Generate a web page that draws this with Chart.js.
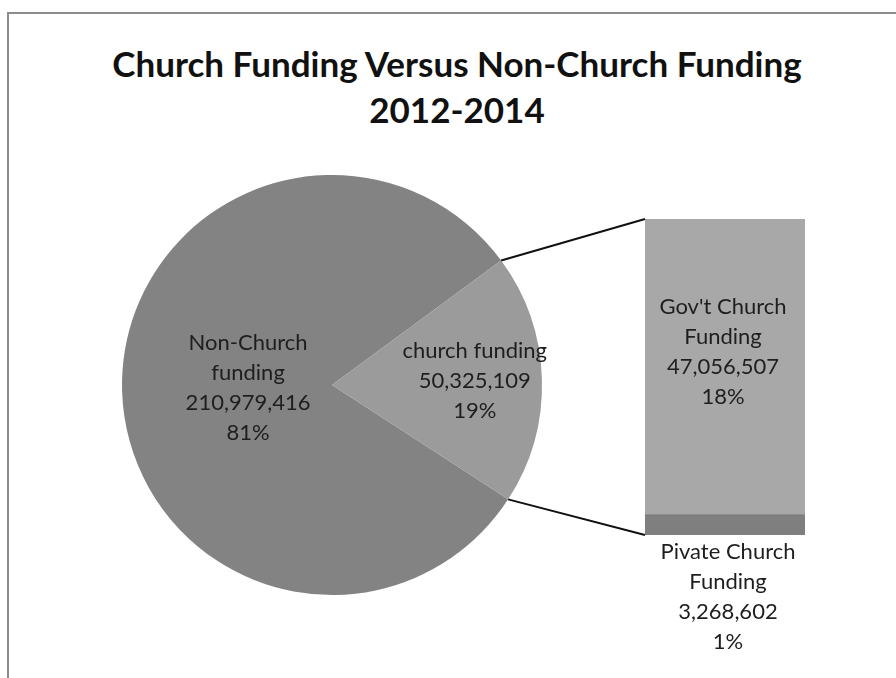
<!DOCTYPE html>
<html>
<head>
<meta charset="utf-8">
<script src="https://cdn.jsdelivr.net/npm/chart.js@4.4.1/dist/chart.umd.min.js"></script>
<style>
  html, body { margin: 0; padding: 0; background: #fff; }
  #wrap { position: relative; width: 896px; height: 678px; overflow: hidden; }
  #frame { position: absolute; left: 7px; top: 12px; width: 900px; height: 700px;
           border-top: 2px solid #8c8c8c; border-left: 2px solid #8c8c8c; }
  #title { position: absolute; left: 0; top: 40px; width: 914px; text-align: center;
           font: bold 35px Lato, sans-serif; line-height: 46px; color: #111; }
  canvas { position: absolute; left: 0; top: 0; }
</style>
</head>
<body>
<div id="wrap">
  <div id="frame"></div>
  <div id="title">Church Funding Versus Non-Church Funding<br>2012-2014</div>
  <canvas id="pie" width="896" height="678"></canvas>
  <canvas id="bar" width="896" height="678"></canvas>
</div>
<script>
// pie: whole picture
const pieLabels = ['Non-Church funding', 'church funding'];
const pieValues = [210979416, 50325109];
const pieLabelLines = [['Non-Church', 'funding'], ['church funding']];
const pieColors = ['#838383', '#9b9b9b'];

// bar: split of the church slice (bottom first)
const barLabels = ['Pivate Church Funding', "Gov't Church Funding"];
const barValues = [3268602, 47056507];
const barLabelLines = [['Pivate Church', 'Funding'], ["Gov't Church", 'Funding']];
const barColors = ['#7f7f7f', '#a8a8a8'];

const grandTotal = pieValues.reduce((a, b) => a + b, 0);
const fmt = v => v.toLocaleString('en-US');
const pct = v => Math.round(v / grandTotal * 100) + '%';

const labelFont = '22px Lato, sans-serif';
const lineH = 30;

function drawBlock(ctx, lines, x, yCenter) {
    const y0 = yCenter - (lines.length - 1) * lineH / 2;
    lines.forEach((t, i) => ctx.fillText(t, x, y0 + i * lineH));
}

const pieText = {
    id: 'pieText',
    afterDatasetsDraw(chart) {
        const ctx = chart.ctx;
        const arcs = chart.getDatasetMeta(0).data;
        const dist = [0.40, 0.68];
        ctx.save();
        ctx.font = labelFont;
        ctx.fillStyle = '#1e1e1e';
        ctx.textAlign = 'center';
        ctx.textBaseline = 'middle';
        arcs.forEach((arc, i) => {
            const mid = (arc.startAngle + arc.endAngle) / 2;
            const r = arc.outerRadius * dist[i];
            const lines = pieLabelLines[i].concat([fmt(pieValues[i]), pct(pieValues[i])]);
            drawBlock(ctx, lines, arc.x + r * Math.cos(mid), arc.y + r * Math.sin(mid));
        });
        ctx.restore();
    }
};

const pieChart = new Chart(document.getElementById('pie'), {
    type: 'pie',
    data: {
        labels: pieLabels,
        datasets: [{ data: pieValues, backgroundColor: pieColors, borderWidth: 0, hoverOffset: 0 }]
    },
    options: {
        responsive: false,
        animation: false,
        rotation: 123,
        layout: { padding: { left: 122, right: 354, top: 175, bottom: 83 } },
        plugins: { legend: { display: false }, tooltip: { enabled: false } }
    },
    plugins: [pieText]
});

// lines from the church slice to the bar + bar labels
const barExtras = {
    id: 'barExtras',
    afterDatasetsDraw(chart) {
        const ctx = chart.ctx;
        const low = chart.getDatasetMeta(0).data[0];
        const high = chart.getDatasetMeta(1).data[0];
        const left = high.x - high.width / 2;
        const arc = pieChart.getDatasetMeta(0).data[1];
        const r = arc.outerRadius;

        ctx.save();
        ctx.strokeStyle = '#111';
        ctx.lineWidth = 2;
        ctx.beginPath();
        ctx.moveTo(arc.x + r * Math.cos(arc.startAngle), arc.y + r * Math.sin(arc.startAngle));
        ctx.lineTo(left, high.y);
        ctx.moveTo(arc.x + r * Math.cos(arc.endAngle), arc.y + r * Math.sin(arc.endAngle));
        ctx.lineTo(left, low.base);
        ctx.stroke();

        ctx.font = labelFont;
        ctx.fillStyle = '#1e1e1e';
        ctx.textAlign = 'center';
        ctx.textBaseline = 'middle';
        const govLines = barLabelLines[1].concat([fmt(barValues[1]), pct(barValues[1])]);
        drawBlock(ctx, govLines, high.x - 2, high.y + (high.base - high.y) * 0.45);
        const privLines = barLabelLines[0].concat([fmt(barValues[0]), pct(barValues[0])]);
        drawBlock(ctx, privLines, low.x + 3, low.base + 17 + (privLines.length - 1) * lineH / 2);
        ctx.restore();
    }
};

new Chart(document.getElementById('bar'), {
    type: 'bar',
    data: {
        labels: [''],
        datasets: barValues.map((v, i) => ({
            label: barLabels[i], data: [v], backgroundColor: barColors[i], borderWidth: 0
        }))
    },
    options: {
        responsive: false,
        animation: false,
        layout: { padding: { left: 645, right: 91, top: 219, bottom: 143 } },
        datasets: { bar: { barPercentage: 1, categoryPercentage: 1 } },
        scales: {
            x: { display: false, stacked: true },
            y: { display: false, stacked: true, min: 0, max: barValues[0] + barValues[1] }
        },
        plugins: { legend: { display: false }, tooltip: { enabled: false } }
    },
    plugins: [barExtras]
});
</script>
</body>
</html>
